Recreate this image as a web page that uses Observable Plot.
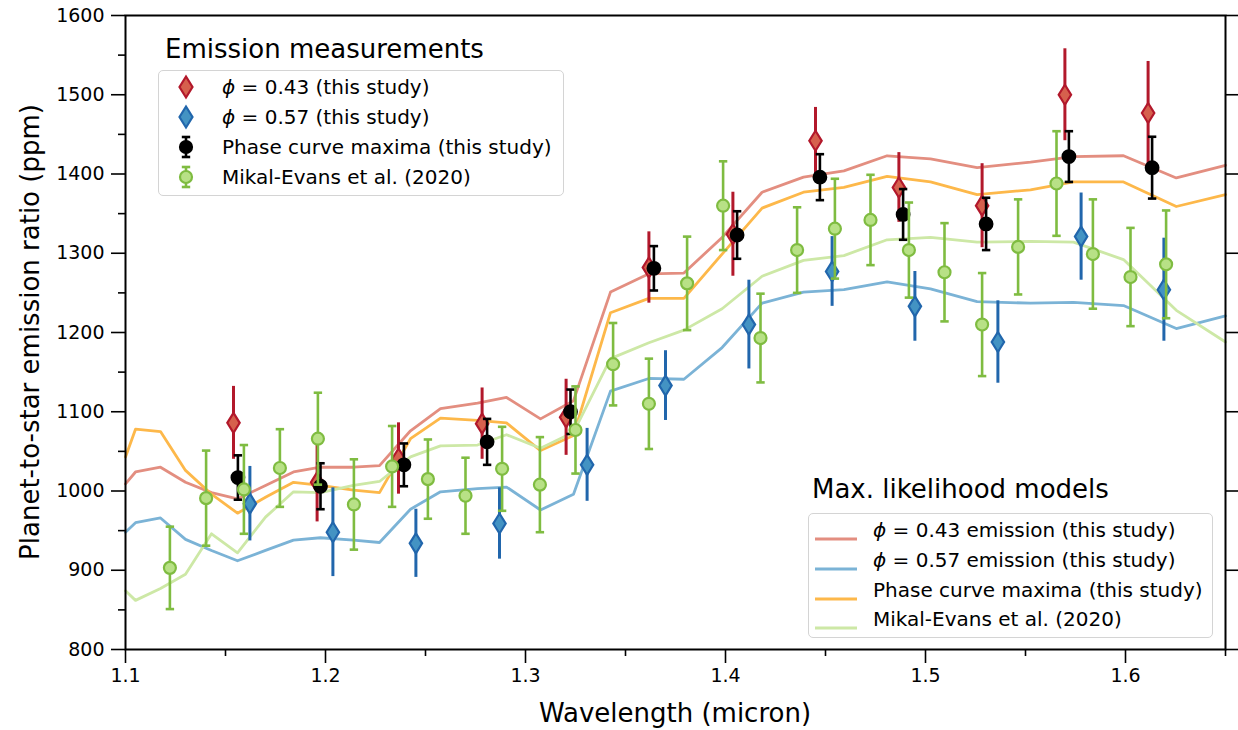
<!DOCTYPE html>
<html>
<head>
<meta charset="utf-8">
<script src="https://cdn.jsdelivr.net/npm/d3@7"></script>
<script src="https://cdn.jsdelivr.net/npm/@observablehq/plot@0.6"></script>
<style>
  html, body { margin: 0; padding: 0; background: #fff; }
  #wrap { position: relative; width: 1238px; height: 730px; font-family: "DejaVu Sans", sans-serif; color: #000; }
  .lgtitle { position: absolute; font-size: 26px; line-height: 1; white-space: nowrap; }
  .lgbox { position: absolute; border: 1.5px solid #d4d4d4; border-radius: 5px; background: rgba(255,255,255,0.85); box-sizing: border-box; }
  .row { position: absolute; font-size: 20px; line-height: 1; white-space: nowrap; transform: translateY(-50%); }
  .sw { position: absolute; transform: translateY(-50%); }
  .axlab { position: absolute; font-size: 26px; white-space: nowrap; line-height: 1; }
</style>
</head>
<body>
<div id="wrap"></div>
<script>
// ---- Data ----
const redWl   = [1.154, 1.1958, 1.2365, 1.2783, 1.3203, 1.3617, 1.4037, 1.445, 1.4867, 1.5283, 1.5697, 1.6113];
const redVal  = [1086, 1011, 1041, 1085, 1093, 1282, 1324, 1442, 1383, 1360, 1500, 1477];
const redErr  = [46, 50, 45, 45, 48, 45, 53, 42, 44, 53, 58, 65];

const blueWl  = [1.1622, 1.2037, 1.2452, 1.287, 1.3308, 1.37, 1.4117, 1.4533, 1.4947, 1.5362, 1.5778, 1.6192];
const blueVal = [984, 948, 934, 959, 1033, 1133, 1210, 1277, 1233, 1188, 1321, 1254];
const blueErr = [47, 56, 43, 45, 46, 44, 56, 44, 44, 52, 55, 65];

const blackWl  = [1.1562, 1.1975, 1.2392, 1.2808, 1.3225, 1.3642, 1.4058, 1.4472, 1.4888, 1.5303, 1.5717, 1.6133];
const blackVal = [1017, 1006, 1033, 1062, 1100, 1281, 1323, 1396, 1349, 1337, 1422, 1408];
const blackErr = [28, 29, 27, 29, 28, 28, 30, 29, 32, 33, 32, 39];

const greenWl  = [1.1222, 1.1403, 1.1592, 1.1772, 1.1962, 1.2142, 1.2333, 1.2512, 1.27, 1.2883, 1.3072, 1.325, 1.3438, 1.3617, 1.3808, 1.3988, 1.4175, 1.4358, 1.4547, 1.4725, 1.4917, 1.5095, 1.5283, 1.5463, 1.5655, 1.5837, 1.6025, 1.6203];
const greenVal = [903, 991, 1002, 1029, 1066, 983, 1031, 1015, 994, 1028, 1008, 1077, 1160, 1110, 1262, 1360, 1193, 1304, 1331, 1342, 1304, 1276, 1210, 1308, 1388, 1299, 1270, 1286];
const greenErr = [52, 60, 56, 49, 58, 57, 51, 50, 48, 53, 60, 55, 52, 57, 59, 56, 56, 54, 63, 57, 60, 62, 65, 60, 66, 69, 62, 68];

const modelWl = [1.1, 1.105, 1.1175, 1.13, 1.143, 1.156, 1.17, 1.184, 1.1975, 1.214, 1.227, 1.2425, 1.2575, 1.276, 1.2905, 1.3075, 1.324, 1.3425, 1.3617, 1.3792, 1.3983, 1.4183, 1.439, 1.4592, 1.4808, 1.5025, 1.5258, 1.5525, 1.574, 1.599, 1.6254, 1.65];
const modelRed    = [1009, 1024, 1030, 1011, 998, 990, 1007, 1024, 1030, 1030, 1032, 1076, 1104, 1111, 1118, 1091, 1114, 1251, 1274, 1275, 1320, 1377, 1396, 1404, 1423, 1419, 1408, 1415, 1422, 1423, 1395, 1411];
const modelBlue   = [948, 960, 966, 939, 925, 912, 925, 938, 941, 938, 935, 977, 999, 1003, 1005, 976, 996, 1126, 1142, 1141, 1181, 1237, 1251, 1254, 1264, 1255, 1239, 1237, 1238, 1234, 1205, 1221];
const modelOrange = [1043, 1078, 1075, 1026, 996, 972, 992, 1011, 1007, 1001, 998, 1066, 1092, 1089, 1086, 1051, 1070, 1225, 1243, 1243, 1299, 1357, 1377, 1383, 1397, 1390, 1374, 1380, 1390, 1390, 1359, 1374];
const modelGreen  = [874, 862, 877, 895, 946, 922, 967, 999, 998, 1007, 1012, 1043, 1057, 1058, 1071, 1054, 1074, 1167, 1187, 1203, 1230, 1271, 1291, 1297, 1317, 1320, 1314, 1315, 1314, 1292, 1228, 1188];

const yTicks = [800, 900, 1000, 1100, 1200, 1300, 1400, 1500, 1600];
const yMinor = [850, 950, 1050, 1150, 1250, 1350, 1450, 1550];
const xTicks = [1.1, 1.2, 1.3, 1.4, 1.5, 1.6];
const xMinor = [1.15, 1.25, 1.35, 1.45, 1.55, 1.65];

const xLabel = "Wavelength (micron)";
const yLabel = "Planet-to-star emission ratio (ppm)";

// ---- Tables ----
const pts = (wl, v, e) => wl.map((x, i) => ({x, y: v[i], lo: v[i] - e[i], hi: v[i] + e[i]}));
const red = pts(redWl, redVal, redErr);
const blue = pts(blueWl, blueVal, blueErr);
const black = pts(blackWl, blackVal, blackErr);
const green = pts(greenWl, greenVal, greenErr);
const model = (v) => modelWl.map((x, i) => ({x, y: v[i]}));

// custom symbols
const thinDiamond = { draw(ctx, size) { const r = Math.sqrt(size / Math.PI); ctx.moveTo(0, -r); ctx.lineTo(r * 0.62, 0); ctx.lineTo(0, r); ctx.lineTo(-r * 0.62, 0); ctx.closePath(); } };
const capSym = { draw(ctx, size) { const r = Math.sqrt(size / Math.PI); ctx.moveTo(-r, 0); ctx.lineTo(r, 0); } };

const C = {
  redFill: "#d6604d", redStroke: "#b2182b",
  blueFill: "#4393c3", blueStroke: "#2166ac",
  greenFill: "#b8e186", greenStroke: "#7fbc41",
  mRed: "#e38e80", mBlue: "#7bb3d6", mOrange: "#fdb84a", mGreen: "#cde8a6"
};

function errSeries(data, color, fill, stroke, sym, r, caps, sw) {
  const m = [Plot.ruleX(data, {x: "x", y1: "lo", y2: "hi", stroke: color, strokeWidth: sw})];
  if (caps) {
    m.push(Plot.dot(data, {x: "x", y: "lo", symbol: capSym, r: 4.2, stroke: color, strokeWidth: sw, fill: "none"}));
    m.push(Plot.dot(data, {x: "x", y: "hi", symbol: capSym, r: 4.2, stroke: color, strokeWidth: sw, fill: "none"}));
  }
  m.push(Plot.dot(data, {x: "x", y: "y", symbol: sym, r, fill, stroke, strokeWidth: 2.2}));
  return m;
}

const chart = Plot.plot({
  width: 1238, height: 730,
  marginLeft: 125, marginRight: 13, marginTop: 15, marginBottom: 81,
  style: {fontFamily: "DejaVu Sans", fontSize: "19px", color: "#000", background: "#fff"},
  x: {domain: [1.1, 1.65]},
  y: {domain: [800, 1600]},
  marks: [
    Plot.line(model(modelRed), {x: "x", y: "y", stroke: C.mRed, strokeWidth: 2.8}),
    Plot.line(model(modelBlue), {x: "x", y: "y", stroke: C.mBlue, strokeWidth: 2.8}),
    Plot.line(model(modelOrange), {x: "x", y: "y", stroke: C.mOrange, strokeWidth: 2.8}),
    Plot.line(model(modelGreen), {x: "x", y: "y", stroke: C.mGreen, strokeWidth: 2.8}),
    ...errSeries(red, C.redStroke, C.redFill, C.redStroke, thinDiamond, 10, false, 3),
    ...errSeries(blue, C.blueStroke, C.blueFill, C.blueStroke, thinDiamond, 10, false, 3),
    ...errSeries(black, "#000", "#000", "#000", "circle", 6.3, true, 2.6),
    ...errSeries(green, C.greenStroke, C.greenFill, C.greenStroke, "circle", 6, true, 2.6),
    Plot.frame({stroke: "#000", strokeWidth: 2}),
    Plot.axisY({ticks: yTicks, tickSize: 14, tickPadding: 7, tickFormat: d => String(d), strokeWidth: 1.6, label: null}),
    Plot.axisY({ticks: yMinor, tickSize: 7, tickFormat: () => "", strokeWidth: 1.6, label: null}),
    Plot.axisY({anchor: "right", ticks: yTicks, tickSize: 14, tickFormat: () => "", strokeWidth: 1.6, label: null}),
    Plot.axisX({ticks: xTicks, tickSize: 14, tickPadding: 5, tickFormat: d => d.toFixed(1), strokeWidth: 1.6, label: null}),
    Plot.axisX({ticks: xMinor, tickSize: 7, tickFormat: () => "", strokeWidth: 1.6, label: null})
  ]
});

const wrap = document.getElementById("wrap");
wrap.appendChild(chart);

function el(tag, cls, style, html) {
  const e = document.createElement(tag);
  if (cls) e.className = cls;
  Object.assign(e.style, style);
  if (html != null) e.innerHTML = html;
  wrap.appendChild(e);
  return e;
}

// axis labels
el("div", "axlab", {left: "675px", top: "713px", transform: "translate(-50%,-50%)"}, xLabel);
el("div", "axlab", {left: "30px", top: "332px", transform: "translate(-50%,-50%) rotate(-90deg)"}, yLabel);

// ---- Legend 1: measurements ----
const phi = '<i style="font-family:\'DejaVu Sans\'">ϕ</i>';
const meas = [
  {label: phi + " = 0.43 (this study)", kind: "diamond", fill: C.redFill, stroke: C.redStroke},
  {label: phi + " = 0.57 (this study)", kind: "diamond", fill: C.blueFill, stroke: C.blueStroke},
  {label: "Phase curve maxima (this study)", kind: "circle", fill: "#000", stroke: "#000"},
  {label: "Mikal-Evans et al. (2020)", kind: "circle", fill: C.greenFill, stroke: C.greenStroke}
];
el("div", "lgtitle", {left: "165px", top: "36px"}, "Emission measurements");
el("div", "lgbox", {left: "158px", top: "70px", width: "406px", height: "126px"});
const rows1 = [86.7, 116.7, 147.3, 176.7];
meas.forEach((m, i) => {
  let svg;
  if (m.kind === "diamond") {
    svg = `<svg width="20" height="26" viewBox="-10 -13 20 26"><path d="M0,-10.5L6.5,0L0,10.5L-6.5,0Z" fill="${m.fill}" stroke="${m.stroke}" stroke-width="2.2"/></svg>`;
  } else {
    svg = `<svg width="20" height="26" viewBox="-10 -13 20 26"><line x1="0" x2="0" y1="-10" y2="10" stroke="${m.stroke}" stroke-width="2.6"/><line x1="-4.2" x2="4.2" y1="-10" y2="-10" stroke="${m.stroke}" stroke-width="2.6"/><line x1="-4.2" x2="4.2" y1="10" y2="10" stroke="${m.stroke}" stroke-width="2.6"/><circle r="6" fill="${m.fill}" stroke="${m.stroke}" stroke-width="2.2"/></svg>`;
  }
  el("div", "sw", {left: "176px", top: rows1[i] + "px", height: "26px"}, svg);
  el("div", "row", {left: "222px", top: rows1[i] + "px"}, m.label);
});

// ---- Legend 2: models ----
const mods = [
  {label: phi + " = 0.43 emission (this study)", color: C.mRed},
  {label: phi + " = 0.57 emission (this study)", color: C.mBlue},
  {label: "Phase curve maxima (this study)", color: C.mOrange},
  {label: "Mikal-Evans et al. (2020)", color: C.mGreen}
];
el("div", "lgtitle", {left: "812px", top: "476px"}, "Max. likelihood models");
el("div", "lgbox", {left: "808px", top: "513px", width: "405px", height: "125px"});
const rows2 = [530, 560, 590, 619];
mods.forEach((m, i) => {
  const svg = `<svg width="44" height="6" viewBox="0 -3 44 6"><line x1="1" x2="43" y1="0" y2="0" stroke="${m.color}" stroke-width="2.8"/></svg>`;
  el("div", "sw", {left: "814px", top: rows2[i] + "px", height: "6px"}, svg);
  el("div", "row", {left: "873px", top: rows2[i] + "px"}, m.label);
});
</script>
</body>
</html>
